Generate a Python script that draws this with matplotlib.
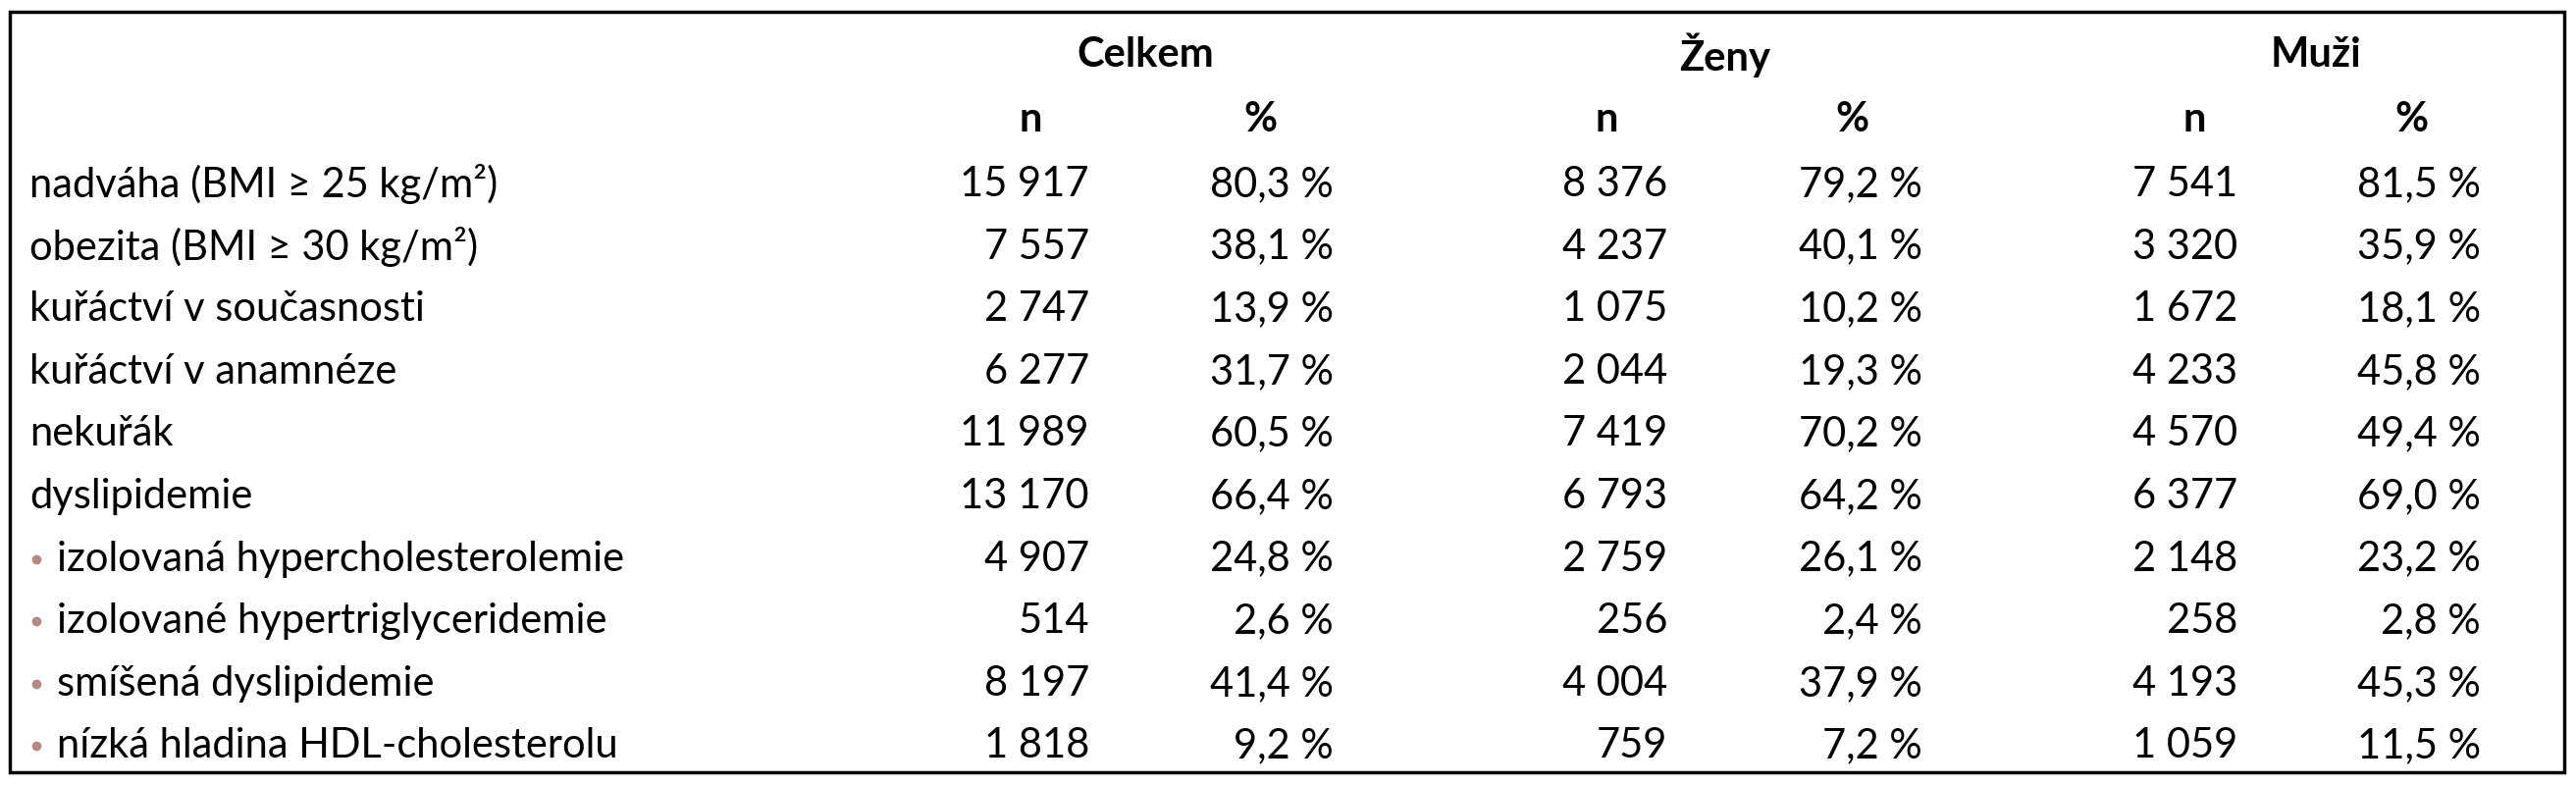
import matplotlib
matplotlib.use("Agg")
import matplotlib.pyplot as plt
from matplotlib.patches import Rectangle

labels = ["nadváha (BMI ≥ 25 kg/m²)", "obezita (BMI ≥ 30 kg/m²)", "kuřáctví v současnosti",
          "kuřáctví v anamnéze", "nekuřák", "dyslipidemie",
          "izolovaná hypercholesterolemie", "izolované hypertriglyceridemie",
          "smíšená dyslipidemie", "nízká hladina HDL-cholesterolu"]
bullet = [False]*6 + [True]*4
celkem_n = ["15 917", "7 557", "2 747", "6 277", "11 989", "13 170", "4 907", "514", "8 197", "1 818"]
celkem_p = ["80,3 %", "38,1 %", "13,9 %", "31,7 %", "60,5 %", "66,4 %", "24,8 %", "2,6 %", "41,4 %", "9,2 %"]
zeny_n = ["8 376", "4 237", "1 075", "2 044", "7 419", "6 793", "2 759", "256", "4 004", "759"]
zeny_p = ["79,2 %", "40,1 %", "10,2 %", "19,3 %", "70,2 %", "64,2 %", "26,1 %", "2,4 %", "37,9 %", "7,2 %"]
muzi_n = ["7 541", "3 320", "1 672", "4 233", "4 570", "6 377", "2 148", "258", "4 193", "1 059"]
muzi_p = ["81,5 %", "35,9 %", "18,1 %", "45,8 %", "49,4 %", "69,0 %", "23,2 %", "2,8 %", "45,3 %", "11,5 %"]
groups = ["Celkem", "Ženy", "Muži"]

W, H = 2625, 800
fig = plt.figure(figsize=(W/100, H/100), dpi=100)
ax = fig.add_axes([0, 0, 1, 1])
ax.set_xlim(0, W); ax.set_ylim(H, 0); ax.axis("off")
ax.add_patch(Rectangle((10, 12), 2603, 775, fill=False, lw=2.5, ec="black"))

FS = 30
font = "Lato"
group_x = [1167, 1758, 2360]
n_hdr = [1050, 1637, 2236]
p_hdr = [1284, 1887, 2457]
n_right = [1110, 1699, 2280]
p_right = [1359, 1959, 2528]
for g, x in zip(groups, group_x):
    ax.text(x, 56, g, ha="center", va="center", fontsize=FS, fontweight="bold", family=font)
for x in n_hdr:
    ax.text(x, 122, "n", ha="center", va="center", fontsize=FS, fontweight="bold", family=font)
for x in p_hdr:
    ax.text(x, 122, "%", ha="center", va="center", fontsize=FS, fontweight="bold", family=font)

cols = [(celkem_n, celkem_p), (zeny_n, zeny_p), (muzi_n, muzi_p)]
for i, lab in enumerate(labels):
    y = 188 + 63.6*i
    if bullet[i]:
        ax.plot(37, y, "o", ms=6, color="#b58a86")
        ax.text(58, y, lab, ha="left", va="center", fontsize=FS, family=font)
    else:
        ax.text(30, y, lab, ha="left", va="center", fontsize=FS, family=font)
    for k, (nn, pp) in enumerate(cols):
        ax.text(n_right[k], y, nn[i], ha="right", va="center", fontsize=FS, family=font)
        ax.text(p_right[k], y, pp[i], ha="right", va="center", fontsize=FS, family=font)

fig.savefig("out.png", dpi=100)
